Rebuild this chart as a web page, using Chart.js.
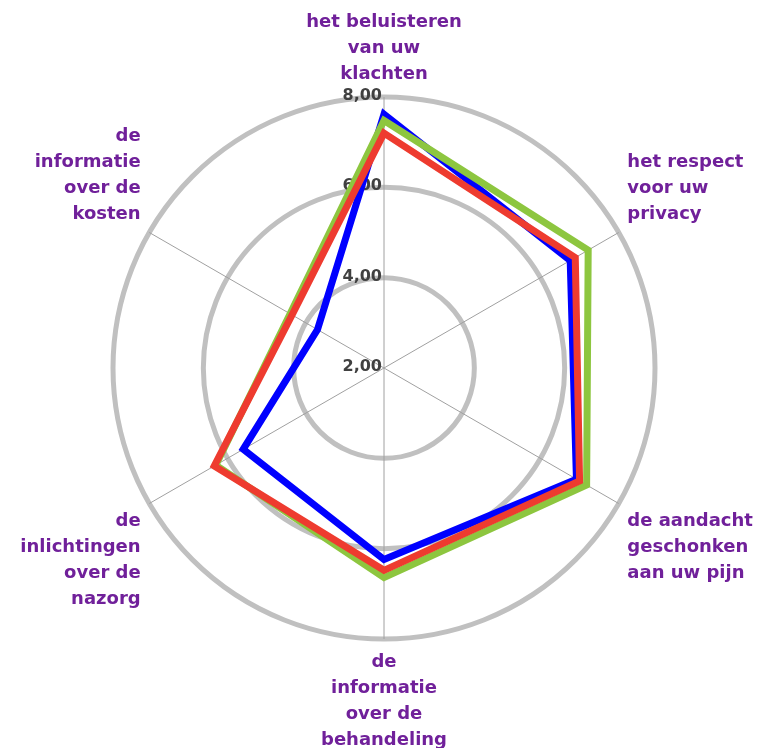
<!DOCTYPE html>
<html>
<head>
<meta charset="utf-8">
<script src="https://cdn.jsdelivr.net/npm/chart.js@4/dist/chart.umd.min.js"></script>
<style>
  html, body { margin: 0; padding: 0; background: #fff; overflow: hidden; }
  #wrap { position: absolute; left: 3px; top: -4px; width: 770px; height: 770px; }
</style>
</head>
<body>
<div id="wrap"><canvas id="radar"></canvas></div>
<script>
const categories = [
  ['het beluisteren', 'van uw', 'klachten'],
  ['het respect', 'voor uw', 'privacy'],
  ['de aandacht', 'geschonken', 'aan uw pijn'],
  ['de', 'informatie', 'over de', 'behandeling'],
  ['de', 'inlichtingen', 'over de', 'nazorg'],
  ['de', 'informatie', 'over de', 'kosten']
];
const blueValues = [7.62, 6.76, 6.92, 6.24, 5.6, 3.7];
const greenValues = [7.48, 7.22, 7.18, 6.64, 6.3, 4.4];
const redValues = [7.2, 6.89, 7.0, 6.48, 6.34, 4.35];
const tickValues = [2, 4, 6, 8];

const fmt = v => v.toFixed(2).replace('.', ',');

// tick labels sit right of the centre line, under the series lines
const tickLabels = {
  id: 'tickLabels',
  beforeDatasetsDraw(chart) {
    const s = chart.scales.r;
    const ctx = chart.ctx;
    ctx.save();
    ctx.font = 'bold 16px "DejaVu Sans"';
    ctx.fillStyle = '#404040';
    ctx.textAlign = 'right';
    ctx.textBaseline = 'middle';
    tickValues.forEach(v => {
      const r = s.getDistanceFromCenterForValue(v);
      ctx.fillText(fmt(v), s.xCenter - 2, s.yCenter - r - 1);
    });
    ctx.restore();
  }
};

const line = (data, color, order) => ({
  data: data,
  borderColor: color,
  backgroundColor: 'transparent',
  borderWidth: 7,
  borderJoinStyle: 'miter',
  pointRadius: 0,
  fill: false,
  order: order
});

new Chart(document.getElementById('radar'), {
  type: 'radar',
  data: {
    labels: categories,
    datasets: [
      line(blueValues, '#0000ff', 3),
      line(greenValues, '#8dc63f', 2),
      line(redValues, '#ee3b2f', 1)
    ]
  },
  options: {
    responsive: true,
    maintainAspectRatio: false,
    animation: false,
    plugins: { legend: { display: false }, tooltip: { enabled: false } },
    scales: {
      r: {
        min: 2,
        max: 8,
        ticks: { stepSize: 2, display: false },
        grid: { circular: true, color: '#c0c0c0', lineWidth: 5 },
        angleLines: { color: '#a0a0a0', lineWidth: 1 },
        pointLabels: {
          color: '#70209a',
          padding: 10,
          font: { family: 'DejaVu Sans', size: 18, weight: 'bold', lineHeight: '26px' }
        }
      }
    }
  },
  plugins: [tickLabels]
});
</script>
</body>
</html>
